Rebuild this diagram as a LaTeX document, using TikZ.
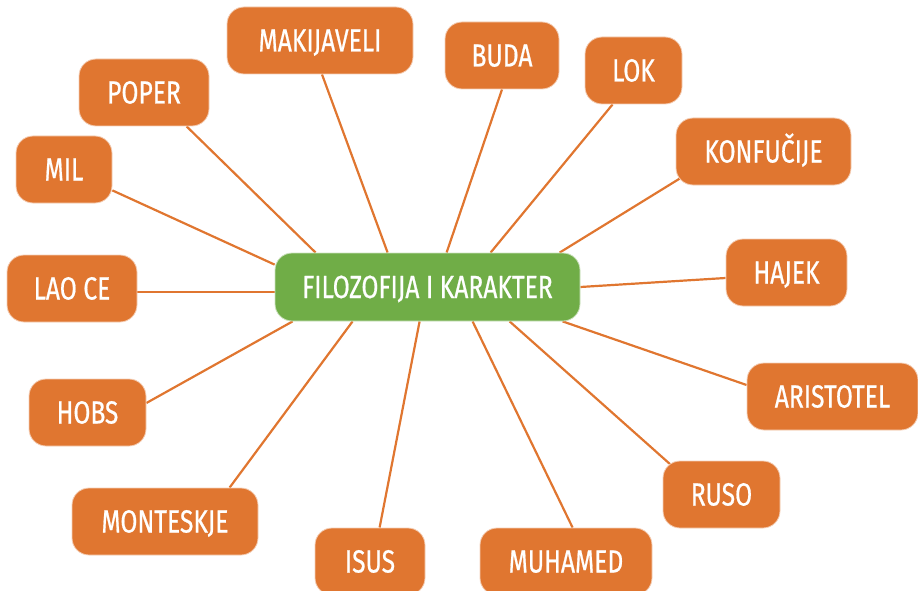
\documentclass[tikz,border=0pt]{standalone}
\usepackage{fontspec}
\newfontfamily\boxfont[FakeStretch=0.77,FakeBold=0.6]{Fira Sans}
\usetikzlibrary{calc,backgrounds}
\definecolor{boxorange}{HTML}{E07630}
\definecolor{boxgreen}{HTML}{70AD47}
\tikzset{
  namebox/.style={rectangle, rounded corners=17pt, fill=boxorange,
    draw=boxorange!35!white, line width=0.8pt, text=white,
    font=\boxfont\fontsize{32}{36}\selectfont, inner sep=0pt,
    minimum height=67pt, text height=22pt, text depth=0pt, align=center},
  hubbox/.style={namebox, fill=boxgreen, draw=boxgreen!35!white, minimum height=68pt},
  link/.style={draw=boxorange, line width=2.2pt}
}
\begin{document}
\begin{tikzpicture}[x=1pt,y=-1pt]
\useasboundingbox (0,0) rectangle (918,591);
\node[hubbox, minimum width=305pt] (c) at (427.5,287) {FILOZOFIJA I KARAKTER};
\node[namebox, minimum width=186pt] (mak) at (320,40.5) {MAKIJAVELI};
\node[namebox, minimum width=114pt] (buda) at (502,55.5) {BUDA};
\node[namebox, minimum width=97pt] (lok) at (633.5,70.5) {LOK};
\node[namebox, minimum width=130pt] (poper) at (144,92.5) {POPER};
\node[namebox, minimum width=175pt] (konf) at (763.5,151.5) {KONFUČIJE};
\node[namebox, minimum width=96pt] (mil) at (64,169.5) {MIL};
\node[namebox, minimum width=121pt] (hajek) at (786.5,272.5) {HAJEK};
\node[namebox, minimum width=130pt] (lao) at (72,288.5) {LAO CE};
\node[namebox, minimum width=117pt] (hobs) at (87.5,412.5) {HOBS};
\node[namebox, minimum width=171pt] (arist) at (832.5,396.5) {ARISTOTEL};
\node[namebox, minimum width=117pt] (ruso) at (721.5,494.5) {RUSO};
\node[namebox, minimum width=186pt] (mont) at (165,521.5) {MONTESKJE};
\node[namebox, minimum width=110pt] (isus) at (370,561.5) {ISUS};
\node[namebox, minimum width=172pt] (muh) at (566,561.5) {MUHAMED};
\begin{scope}[on background layer]
\draw[link] ($(mak.south)+(2,0)$) -- ($(c.north west)+(113,0)$);
\draw[link] (buda.south) -- ($(c.north west)+(172,0)$);
\draw[link] ($(lok.south west)+(28,0)$) -- ($(c.north west)+(216,0)$);
\draw[link] ($(poper.south west)+(108,0)$) -- ($(c.north west)+(41,0)$);
\draw[link] ($(konf.south west)+(6,-8)$) -- ($(c.north west)+(285,0)$);
\draw[link] ($(mil.south east)+(0,-13)$) -- ($(c.north west)+(0,12)$);
\draw[link] ($(lao.east)+(0,3.5)$) -- ($(c.west)+(0,5)$);
\draw[link] ($(hajek.west)+(0,5.5)$) -- (c.east);
\draw[link] ($(hobs.east)+(0,-9.5)$) -- ($(c.south west)+(18,0)$);
\draw[link] ($(arist.west)+(0,-11.5)$) -- ($(c.south west)+(288,0)$);
\draw[link] ($(ruso.north west)+(8,4)$) -- ($(c.south west)+(235,0)$);
\draw[link] ($(mont.north west)+(158,0)$) -- ($(c.south west)+(78,0)$);
\draw[link] ($(isus.north west)+(65,0)$) -- ($(c.south west)+(145,0)$);
\draw[link] ($(muh.north west)+(93,0)$) -- ($(c.south west)+(198,0)$);
\end{scope}
\end{tikzpicture}
\end{document}
